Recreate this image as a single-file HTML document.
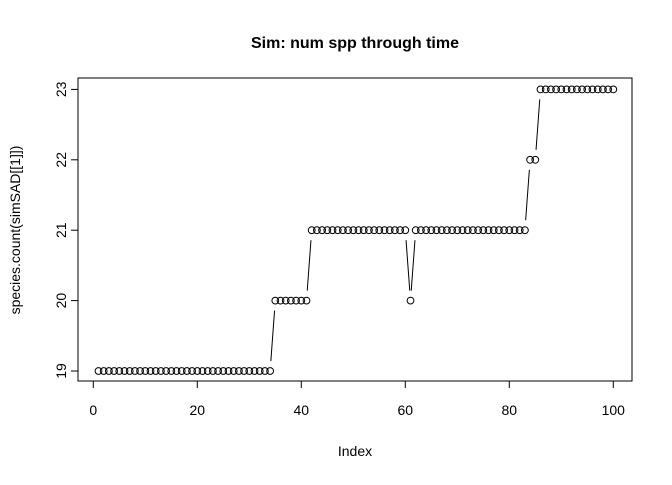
<!DOCTYPE html>
<html><head><meta charset="utf-8"><style>
body{margin:0;background:#fff}
svg text{font-family:"Liberation Sans",Arial,sans-serif;fill:#000}
</style></head><body>
<svg id="chart" width="672" height="480">
<text x="355" y="48" text-anchor="middle" font-size="16" font-weight="bold">Sim: num spp through time</text>
<text x="355" y="456" text-anchor="middle" font-size="14">Index</text>
<text transform="translate(20,230) rotate(-90)" text-anchor="middle" font-size="14">species.count(simSAD[[1]])</text>
<rect x="78" y="78" width="554" height="303" fill="none" stroke="#000" stroke-width="1"/>
<g id="axes"></g>
<g id="marks"></g>
</svg>
<script>
const counts = [34, 7, 19, 1, 22, 2, 15];
const levels = [19, 20, 21, 20, 21, 22, 23];
const xTicks = [0, 20, 40, 60, 80, 100];
const yTicks = [19, 20, 21, 22, 23];
const NS = "http://www.w3.org/2000/svg";
const values = [];
counts.forEach((c, i) => { for (let k = 0; k < c; k++) values.push(levels[i]); });
const xs = i => 93.3 + (i) * 5.2;
const ys = v => 371 - (v - 19) * 70.4;
const axes = document.getElementById('axes');
const marks = document.getElementById('marks');
function mk(tag, attrs, parent) { const e = document.createElementNS(NS, tag); for (const k in attrs) e.setAttribute(k, attrs[k]); parent.appendChild(e); return e; }
const xl = mk('line', {x1: xs(0), x2: xs(100), y1: 381, y2: 381, stroke: '#000'}, axes);


xTicks.forEach(t => {
  const l = mk('line', {x1: xs(t), x2: xs(t), y1: 381, y2: 388, stroke: '#000'}, axes);
  
  
  const tx = mk('text', {x: xs(t), y: 415, 'text-anchor': 'middle', 'font-size': 14}, axes);
  tx.textContent = t;
  
  
});
const yl = mk('line', {x1: 78, x2: 78, y1: ys(19), y2: ys(23), stroke: '#000'}, axes);


yTicks.forEach(t => {
  const l = mk('line', {x1: 71, x2: 78, y1: ys(t), y2: ys(t), stroke: '#000'}, axes);
  
  
  const tx = mk('text', {transform: `translate(66,${ys(t)}) rotate(-90)`, 'text-anchor': 'middle', 'font-size': 14}, axes);
  tx.textContent = t;
  
  
});
const gap = 10;
for (let i = 0; i < values.length - 1; i++) {
  const x1 = xs(i + 1), y1 = ys(values[i]), x2 = xs(i + 2), y2 = ys(values[i + 1]);
  const d = Math.hypot(x2 - x1, y2 - y1);
  if (d > 2 * gap) {
    const ux = (x2 - x1) / d, uy = (y2 - y1) / d;
    const s = mk('line', {x1: x1 + ux * gap, y1: y1 + uy * gap, x2: x2 - ux * gap, y2: y2 - uy * gap, stroke: '#000', 'stroke-width': 1}, marks);
    
    
  }
}
values.forEach((v, i) => {
  const c = mk('circle', {cx: xs(i + 1), cy: ys(v), r: 3.4, fill: 'none', stroke: '#000', 'stroke-width': 1}, marks);
  
  
});
</script>
</body></html>
